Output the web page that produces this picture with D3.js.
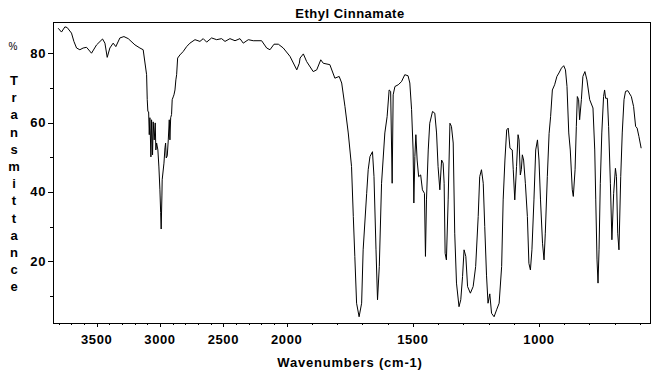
<!DOCTYPE html>
<html>
<head>
<meta charset="utf-8">
<style>
  body { margin: 0; background: #fff; }
  text { font-family: "Liberation Sans", Arial, sans-serif; font-weight: bold; fill: #000; }
</style>
<script src="https://cdn.jsdelivr.net/npm/d3@7"></script>
</head>
<body>
<script>
// Ethyl Cinnamate IR spectrum
const title = 'Ethyl Cinnamate'
const xLabel = 'Wavenumbers (cm-1)'
const yLabel = 'Transmittance'
const xTicks = [3500, 3000, 2500, 2000, 1500, 1000]
const yTicks = [20, 40, 60, 80]

const wavenumber = [
  3804, 3778, 3751, 3733, 3699, 3680, 3659, 3633, 3607, 3580, 3541, 3501, 3454, 3435, 3417, 3396,
  3370, 3349, 3317, 3285, 3251, 3198, 3159, 3133, 3106, 3101, 3096, 3090, 3085, 3080, 3072, 3067,
  3059, 3054, 3046, 3038, 3033, 3027, 3017, 3009, 3001, 2995, 2991, 2985, 2983, 2969, 2961, 2956,
  2951, 2943, 2935, 2927, 2922, 2916, 2909, 2904, 2896, 2890, 2882, 2875, 2869, 2861, 2843, 2817,
  2790, 2764, 2724, 2685, 2659, 2632, 2593, 2553, 2514, 2487, 2448, 2408, 2369, 2343, 2303, 2264,
  2198, 2158, 2132, 2100, 2066, 2027, 1987, 1960, 1950, 1947, 1934, 1921, 1895, 1881, 1865, 1855,
  1829, 1809, 1792, 1782, 1769, 1756, 1743, 1736, 1730, 1723, 1713, 1703, 1697, 1683, 1677, 1670,
  1660, 1654, 1646, 1640, 1633, 1624, 1611, 1602, 1594, 1588, 1582, 1578, 1571, 1558, 1545, 1532,
  1519, 1512, 1505, 1499, 1496, 1492, 1488, 1483, 1477, 1469, 1462, 1454, 1450, 1446, 1439, 1433,
  1422, 1413, 1406, 1400, 1393, 1386, 1380, 1376, 1372, 1367, 1360, 1353, 1347, 1340, 1334, 1327,
  1317, 1310, 1303, 1297, 1290, 1283, 1272, 1261, 1251, 1241, 1235, 1228, 1221, 1215, 1208, 1202,
  1195, 1188, 1178, 1168, 1158, 1148, 1142, 1135, 1128, 1122, 1115, 1106, 1102, 1096, 1089, 1083,
  1079, 1074, 1070, 1066, 1061, 1054, 1046, 1040, 1034, 1028, 1020, 1013, 1006, 1000, 994, 986,
  980, 975, 967, 960, 954, 947, 938, 929, 921, 911, 902, 895, 889, 882, 876, 868,
  864, 857, 852, 848, 843, 839, 832, 826, 818, 810, 799, 786, 779, 775, 770, 766,
  762, 757, 751, 744, 740, 736, 729, 724, 717, 711, 704, 697, 693, 688, 683, 676,
  670, 663, 657, 648, 634, 625, 617, 611, 604, 595
]
const transmittance = [
  87.2, 86.1, 87.6, 87.4, 85.8, 83.4, 81.5, 81.0, 81.5, 81.7, 80.0, 82.4, 84.1, 82.9, 78.8, 81.5,
  82.9, 81.9, 84.4, 84.8, 84.2, 82.4, 81.5, 81.0, 73.8, 66.6, 63.2, 63.1, 56.5, 61.4, 50.1, 60.8,
  50.7, 60.2, 55.0, 59.9, 52.1, 54.1, 52.1, 47.2, 40.6, 34.0, 29.3, 39.1, 43.5, 48.3, 52.7, 54.1,
  49.8, 50.4, 55.0, 60.8, 55.0, 61.4, 62.3, 66.6, 67.4, 68.0, 69.4, 72.3, 73.8, 78.6, 79.5, 80.5,
  81.9, 82.9, 83.9, 83.4, 84.2, 83.2, 84.4, 83.9, 84.2, 83.4, 84.2, 83.6, 84.2, 82.9, 83.9, 83.6,
  83.6, 81.5, 81.0, 82.6, 82.6, 81.5, 79.1, 75.2, 77.1, 78.6, 79.8, 77.6, 74.7, 75.2, 78.1, 77.1,
  76.7, 72.8, 73.3, 71.4, 64.6, 57.0, 47.3, 32.9, 21.4, 7.9, 4.0, 7.9, 23.3, 39.6, 46.4, 50.2,
  51.6, 44.4, 23.3, 8.9, 18.5, 42.5, 57.0, 61.7, 69.4, 69.0, 42.5, 68.0, 70.4, 70.9, 71.8, 73.8,
  73.5, 71.4, 63.7, 52.1, 36.8, 50.2, 56.5, 49.2, 44.4, 44.9, 40.6, 39.6, 21.4, 37.7, 52.1, 59.8,
  63.2, 62.7, 57.0, 47.3, 40.6, 49.2, 48.3, 42.5, 22.3, 20.4, 37.7, 59.8, 58.9, 54.1, 28.1, 13.7,
  6.9, 8.9, 15.6, 23.3, 21.4, 12.7, 10.8, 12.7, 18.5, 32.9, 44.4, 46.4, 42.5, 30.0, 16.0, 7.9,
  10.6, 5.0, 4.0, 6.0, 7.9, 18.5, 37.7, 49.2, 57.9, 58.4, 52.6, 52.1, 46.4, 37.7, 47.3, 56.5,
  55.0, 44.9, 46.4, 50.7, 49.2, 42.5, 32.9, 19.4, 17.5, 23.3, 37.7, 52.1, 55.0, 49.2, 37.7, 25.2,
  20.4, 28.1, 44.4, 56.8, 61.7, 69.4, 70.9, 73.3, 74.3, 75.7, 76.4, 75.2, 70.4, 57.0, 52.1, 40.6,
  38.7, 46.4, 58.9, 67.5, 66.6, 60.8, 66.6, 73.3, 74.7, 72.3, 66.6, 64.2, 52.1, 37.7, 20.4, 13.7,
  23.3, 42.5, 57.0, 67.5, 69.4, 67.0, 67.0, 58.9, 42.5, 26.2, 39.6, 46.8, 44.4, 28.1, 23.3, 44.4,
  57.0, 66.6, 69.0, 69.2, 67.5, 64.6, 58.9, 58.4, 56.0, 52.6
]

const W = 664, H = 373
const plotLeft = 53, plotRight = 650, plotTop = 22, plotBottom = 323

// the axis is expanded 2x below 2000 cm-1
const x = d3.scaleLinear().domain([3845, 2000, 560]).range([plotLeft, 286.7, plotRight])
const y = d3.scaleLinear().domain([2.2, 89]).range([plotBottom, plotTop])

const svg = d3.select('body').append('svg')
  .attr('width', W)
  .attr('height', H)

// Minor + major ticks
const xMinor = d3.range(3800, 550, -100)
svg.append('g')
  .selectAll('line')
  .data(xMinor)
  .join('line')
  .attr('x1', d => Math.round(x(d)) + 0.5)
  .attr('x2', d => Math.round(x(d)) + 0.5)
  .attr('y1', plotBottom)
  .attr('y2', d => plotBottom + (xTicks.includes(d) ? 4 : 2))
  .attr('stroke', '#000')

const yMinor = d3.range(10, 90, 10)
svg.append('g')
  .selectAll('line')
  .data(yMinor)
  .join('line')
  .attr('y1', d => Math.round(y(d)) + 0.5)
  .attr('y2', d => Math.round(y(d)) + 0.5)
  .attr('x1', plotLeft)
  .attr('x2', d => plotLeft - (yTicks.includes(d) ? 5 : 3))
  .attr('stroke', '#000')

// Tick labels
svg.append('g')
  .selectAll('text')
  .data(xTicks)
  .join('text')
  .attr('x', d => x(d))
  .attr('y', 344)
  .attr('text-anchor', 'middle')
  .attr('font-size', 13)
  .attr('letter-spacing', 0.6)
  .text(d => d)

svg.append('g')
  .selectAll('text')
  .data(yTicks)
  .join('text')
  .attr('x', 46)
  .attr('y', d => y(d) + 4.5)
  .attr('text-anchor', 'end')
  .attr('font-size', 13)
  .attr('letter-spacing', 0.6)
  .text(d => d)

// Spectrum
const line = d3.line()
  .x((d, i) => x(wavenumber[i]))
  .y(d => y(d))
svg.append('path')
  .datum(transmittance)
  .attr('d', line)
  .attr('fill', 'none')
  .attr('stroke', '#000')
  .attr('stroke-width', 1)

// Frame
svg.append('rect')
  .attr('x', plotLeft + 0.5)
  .attr('y', plotTop + 0.5)
  .attr('width', plotRight - plotLeft)
  .attr('height', plotBottom - plotTop)
  .attr('fill', 'none')
  .attr('stroke', '#000')

// Titles
svg.append('text')
  .attr('x', 350)
  .attr('y', 18)
  .attr('text-anchor', 'middle')
  .attr('font-size', 13)
  .attr('letter-spacing', 0.5)
  .text(title)

svg.append('text')
  .attr('x', 350)
  .attr('y', 367)
  .attr('text-anchor', 'middle')
  .attr('font-size', 13)
  .attr('letter-spacing', 0.8)
  .text(xLabel)

svg.append('text')
  .attr('x', 13)
  .attr('y', 50)
  .attr('text-anchor', 'middle')
  .attr('font-size', 10)
  .style('font-weight', 'normal')
  .text('%')

svg.append('g')
  .selectAll('text')
  .data(yLabel.split(''))
  .join('text')
  .attr('x', 14)
  .attr('y', (d, i) => 85 + i * 17.2)
  .attr('text-anchor', 'middle')
  .attr('font-size', 13)
  .text(d => d)
</script>
</body>
</html>
